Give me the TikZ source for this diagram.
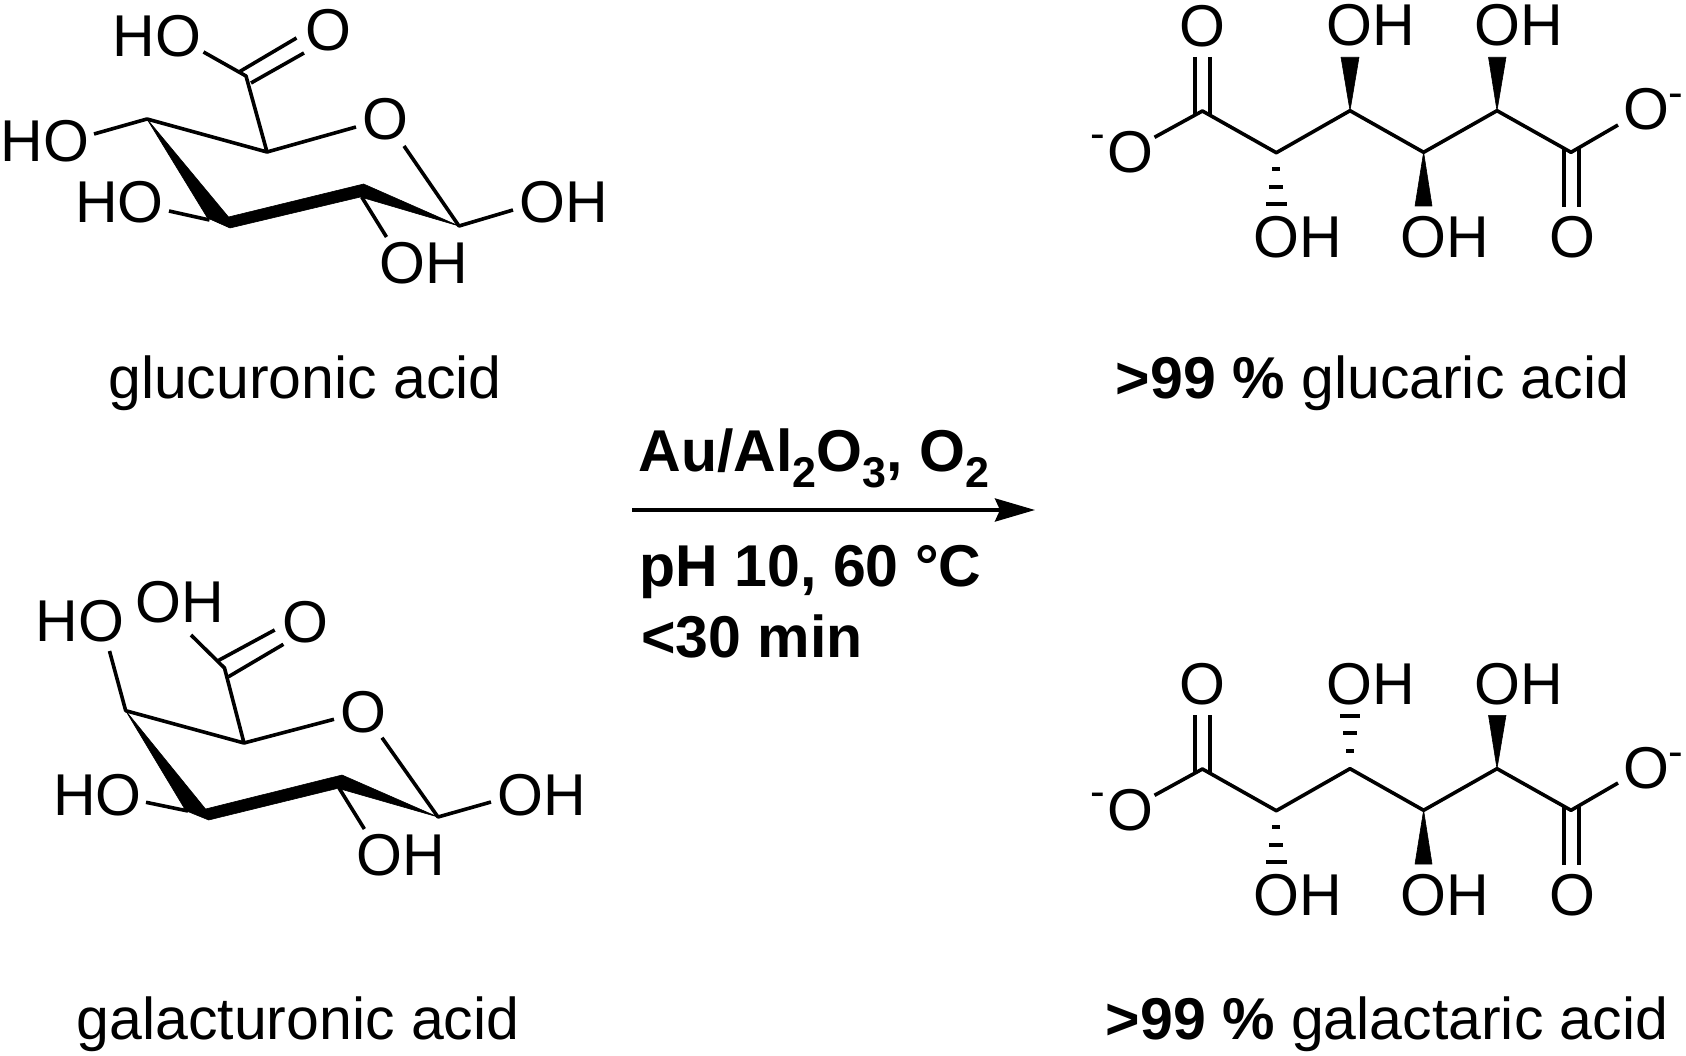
\documentclass[tikz,border=0pt]{standalone}
\usepackage{fontspec}
\setmainfont{Liberation Sans}
\usetikzlibrary{arrows.meta}
\tikzset{
  atom/.style={font=\fontsize{59}{63}\selectfont,inner sep=0pt,anchor=base,text=black},
  caption/.style={font=\fontsize{59}{63}\selectfont,inner sep=0pt,anchor=base,text=black},
  cond/.style={font=\fontsize{59}{63}\selectfont\bfseries,inner sep=0pt,anchor=base west,text=black},
  bond/.style={draw=black,line width=3.6pt,line join=round},
  solid wedge/.style={fill=black,draw=black,line width=0.6pt,line join=round},
  hash/.style={draw=black,line width=3.8pt},
  rxn/.style={draw=black,line width=4pt,-{Stealth[length=40pt,width=23pt,inset=5pt]}}
}
\newcommand{\subdigit}[1]{\raisebox{-16pt}{\fontsize{43}{45}\selectfont #1}}
\newcommand{\negL}{\llap{\raisebox{24pt}{\fontsize{44}{46}\selectfont -}\kern2pt}}
\newcommand{\negR}{\rlap{\raisebox{22pt}{\fontsize{44}{46}\selectfont -}}}
\begin{document}
\begin{tikzpicture}[x=1pt,y=-1pt]
\useasboundingbox (0,0) rectangle (1686,1056);
\fill[white] (0,0) rectangle (1686,1056);

% ---------- glucuronic acid ----------
\coordinate (gC6) at (246,76);
\coordinate (gC5) at (267,152);
\coordinate (gC4) at (147,119);
\coordinate (gC1) at (459,226);
\fill[solid wedge] (gC4) -- (228.5,217) -- (363.6,184) -- (gC1) -- (360.5,197) -- (230,228) -- (207.5,218) -- cycle;
\node[atom] (gHOa) at (157,57) {HO};
\node[atom] (gOa) at (328,51) {O};
\node[atom] (gO) at (385.5,139.5) {O};
\node[atom] (gHOb) at (45,162) {HO};
\node[atom] (gHOc) at (119.5,223) {HO};
\node[atom] (gOHa) at (564,223) {OH};
\node[atom] (gOHb) at (424,284) {OH};
\draw[bond] (203.5,52) -- (gC6) -- (gC5) -- (gC4) -- (94,134);
\draw[bond] (239,72) -- (296.5,38);
\draw[bond] (251,83) -- (304,53);
\draw[bond] (gC5) -- (356,127);
\draw[bond] (404,146) -- (gC1) -- (513,210);
\draw[bond] (169,211) -- (209.5,220);
\draw[bond] (361.7,197) -- (386.5,237);

% ---------- galacturonic acid ----------
\coordinate (aC6) at (224.5,668);
\coordinate (aC5) at (244,743);
\coordinate (aC4) at (125.7,710.7);
\coordinate (aC1) at (438,817);
\fill[solid wedge] (aC4) -- (205.5,809) -- (342,775) -- (aC1) -- (338,788.3) -- (208.7,820) -- (185.8,810.7) -- cycle;
\node[atom] (aHOa) at (80,641.7) {HO};
\node[atom] (aOHa) at (179.5,622.7) {OH};
\node[atom] (aOa) at (305.4,642) {O};
\node[atom] (aO) at (363.5,732) {O};
\node[atom] (aHOb) at (97.5,815) {HO};
\node[atom] (aOHb) at (542,815) {OH};
\node[atom] (aOHc) at (401,875.7) {OH};
\draw[bond] (191,635) -- (aC6) -- (aC5) -- (aC4) -- (109.5,651);
\draw[bond] (218,660.7) -- (274.7,630);
\draw[bond] (228.5,676.7) -- (283.4,644.3);
\draw[bond] (aC5) -- (334,719.3);
\draw[bond] (382,737.7) -- (aC1) -- (491,802);
\draw[bond] (146,802.3) -- (188,811);
\draw[bond] (339,788) -- (364.4,829);

% ---------- glucaric acid ----------
\coordinate (pC1) at (1202.4,111);
\coordinate (pC2) at (1276.3,152.7);
\coordinate (pC3) at (1350,110.7);
\coordinate (pC4) at (1423.6,152.3);
\coordinate (pC5) at (1497,110.7);
\coordinate (pC6) at (1571,152.3);
\node[atom] (pOa) at (1202.4,46.5) {O};
\node[atom] (pOHa) at (1370.5,46) {OH};
\node[atom] (pOHb) at (1518.5,46) {OH};
\node[atom] (pOm) at (1646,130) {O\negR};
\node[atom] (pOl) at (1130,172.5) {\negL O};
\node[atom] (pOHc) at (1297.5,257.5) {OH};
\node[atom] (pOHd) at (1445,257.5) {OH};
\node[atom] (pOb) at (1572,257.5) {O};
\draw[bond] (1154.5,137.3) -- (pC1) -- (pC2) -- (pC3) -- (pC4) -- (pC5) -- (pC6) -- (1618,125);
\draw[bond] (1195,57) -- (1195,115.5);
\draw[bond] (1210,57) -- (1210,115.5);
\draw[bond] (1564,148) -- (1564,207);
\draw[bond] (1579,148) -- (1579,207);
\fill[solid wedge] (pC3) -- (1341,57.3) -- (1359,57.3) -- cycle;
\fill[solid wedge] (pC5) -- (1488.5,57.3) -- (1506,57.3) -- cycle;
\fill[solid wedge] (pC4) -- (1415,206) -- (1432,206) -- cycle;
\draw[hash] (1272.3,169) -- (1280.3,169);
\draw[hash] (1269.3,186.7) -- (1283.3,186.7);
\draw[hash] (1265.8,204) -- (1286.8,204);

% ---------- galactaric acid ----------
\begin{scope}[shift={(0,658)}]
\coordinate (qC1) at (1202.4,111);
\coordinate (qC2) at (1276.3,152.7);
\coordinate (qC3) at (1350,110.7);
\coordinate (qC4) at (1423.6,152.3);
\coordinate (qC5) at (1497,110.7);
\coordinate (qC6) at (1571,152.3);
\node[atom] (qOa) at (1202.4,46) {O};
\node[atom] (qOHa) at (1370.5,46) {OH};
\node[atom] (qOHb) at (1518.5,46) {OH};
\node[atom] (qOm) at (1646,130) {O\negR};
\node[atom] (qOl) at (1130,172.5) {\negL O};
\node[atom] (qOHc) at (1297.5,257.5) {OH};
\node[atom] (qOHd) at (1445,257.5) {OH};
\node[atom] (qOb) at (1572,257.5) {O};
\draw[bond] (1154.5,137.3) -- (qC1) -- (qC2) -- (qC3) -- (qC4) -- (qC5) -- (qC6) -- (1618,125);
\draw[bond] (1195,57) -- (1195,115.5);
\draw[bond] (1210,57) -- (1210,115.5);
\draw[bond] (1564,148) -- (1564,207);
\draw[bond] (1579,148) -- (1579,207);
\fill[solid wedge] (qC5) -- (1488.5,57.3) -- (1506,57.3) -- cycle;
\fill[solid wedge] (qC4) -- (1415,206) -- (1432,206) -- cycle;
\draw[hash] (1272.3,169) -- (1280.3,169);
\draw[hash] (1269.3,186.7) -- (1283.3,186.7);
\draw[hash] (1265.8,204) -- (1286.8,204);
\draw[hash] (1346,92.7) -- (1354,92.7);
\draw[hash] (1343,75.3) -- (1357,75.3);
\draw[hash] (1340,58) -- (1360,58);
\end{scope}

% ---------- captions ----------
\node[caption] (capA) at (305,398) {glucuronic acid};
\node[caption] (capB) at (298,1039) {galacturonic acid};
\node[caption] (capC) at (1372.6,398) {\textbf{>99 \%} glucaric acid};
\node[caption] (capD) at (1387,1039) {\textbf{>99 \%} galactaric acid};

% ---------- reaction arrow ----------
\node[cond] (condA) at (638.5,471) {Au/Al\subdigit{2}O\subdigit{3}, O\subdigit{2}};
\node[cond] (condB) at (639.5,586) {pH 10, 60 °C};
\node[cond] (condC) at (641,657) {<30 min};
\coordinate (rxnS) at (632,510);
\coordinate (rxnE) at (1035,510);
\draw[rxn] (rxnS) -- (rxnE);
\end{tikzpicture}
\end{document}
